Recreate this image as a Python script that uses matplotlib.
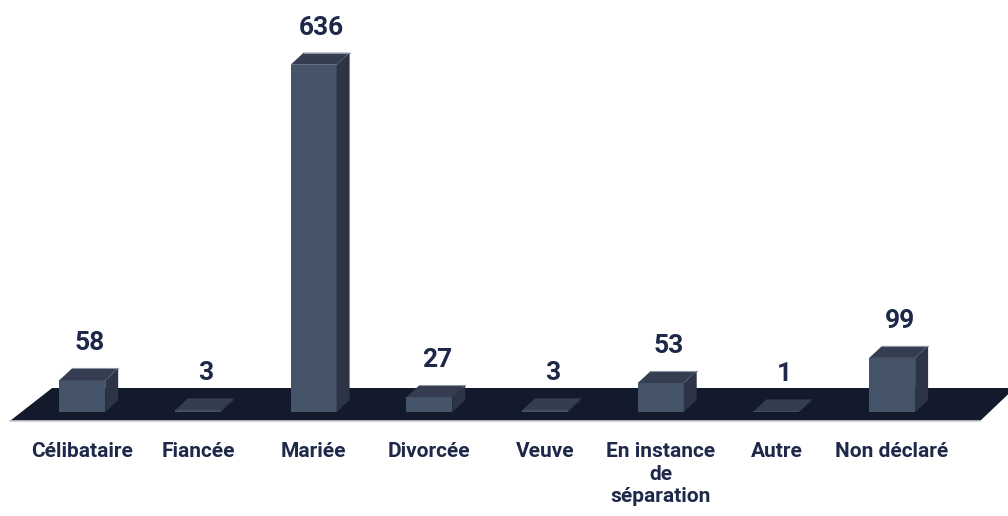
import matplotlib
matplotlib.use("Agg")
import matplotlib.pyplot as plt

# ---- data ----
categories = ["Célibataire", "Fiancée", "Mariée", "Divorcée", "Veuve",
              "En instance\nde\nséparation", "Autre", "Non déclaré"]
values = [58, 3, 636, 27, 3, 53, 1, 99]

# ---- style ----
FRONT = "#46546a"
TOP = "#353e50"
SIDE = "#2c3445"
FLOOR = "#131a2b"
TEXT = "#1e2848"
plt.rcParams["font.family"] = ["Roboto", "DejaVu Sans"]

W, H, DPI = 1008, 516, 100
fig = plt.figure(figsize=(W / DPI, H / DPI), dpi=DPI)
ax = fig.add_axes([0, 0, 1, 1])
ax.axis("off")

# slot 0 at pixel ~82, slot pitch ~116 px; baseline at pixel row 412, 0.546 px/unit
px_x = 115.7
px_y = 0.546
x0_px, base_px = 82.2, 412
ax.set_xlim(-x0_px / px_x, (W - x0_px) / px_x)
ax.set_ylim(-(H - base_px) / px_y, base_px / px_y)

bw = 46 / px_x          # front face width
dx = 13 / px_x          # depth offset
dy = 12 / px_y

xs = list(range(len(categories)))

# floor (dark slab under the bars)
f_lo, f_hi = -9 / px_y, 24 / px_y
fl_front, fl_back = xs[0] - 0.625, xs[0] - 0.26
fr_front, fr_back = xs[-1] + 0.76, xs[-1] + 1.06
ax.fill([fl_front, fr_front, fr_back, fl_back], [f_lo, f_lo, f_hi, f_hi],
        color=FLOOR, lw=0, zorder=1)
ax.plot([fl_front, fr_front], [f_lo, f_lo], color="#c9ccd3", lw=1.2, zorder=1)

for x, v in zip(xs, values):
    l, r = x - bw / 2, x + bw / 2
    ax.fill([l, r, r, l], [0, 0, v, v], color=FRONT, lw=0, zorder=3)
    ax.fill([r, r + dx, r + dx, r], [0, dy, v + dy, v], color=SIDE, lw=0, zorder=3)
    ax.fill([l, r, r + dx, l + dx], [v, v, v + dy, v + dy], color=TOP, lw=0, zorder=3)
    if v > 10:
        ax.plot([l + dx, r + dx], [v + dy, v + dy], color="#8d95a5", lw=0.8, zorder=4)
    ax.text(x + dx * 0.6, v + dy + 18 / px_y, f"{v}", ha="center", va="baseline",
            fontsize=19, fontweight="bold", color=TEXT, zorder=5)

for x, c in zip(xs, categories):
    ax.text(x, -30 / px_y, c, ha="center", va="top", fontsize=15,
            fontweight="bold", color=TEXT, linespacing=1.25)

fig.savefig("out.png", dpi=DPI)
